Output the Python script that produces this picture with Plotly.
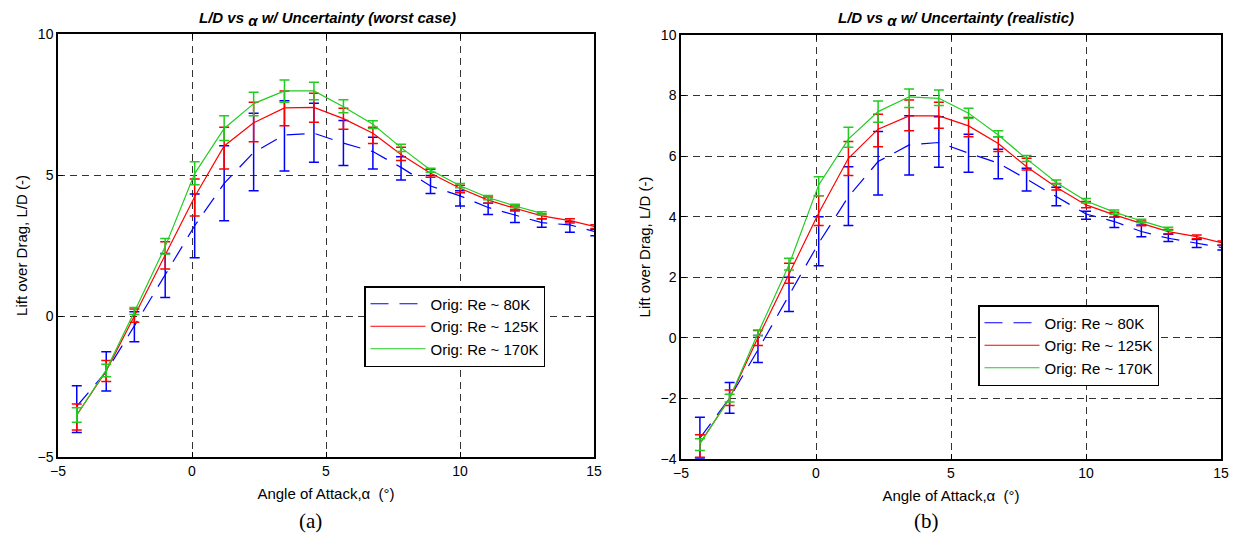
import plotly.graph_objects as go

# ---------------- data ----------------
alpha = [-4.3, -3.2, -2.15, -1.0, 0.1, 1.2, 2.3, 3.45, 4.55, 5.65, 6.75,
         7.8, 8.9, 10.0, 11.05, 12.05, 13.05, 14.1, 15.05]

# (a) worst case
wc80_mid = [-3.2, -1.97, -0.35, 1.45, 3.2, 4.7, 5.8, 6.42, 6.48, 6.13, 5.83, 5.27, 4.61, 4.26, 3.85, 3.58, 3.31, 3.23, 2.99]
wc80_hi = [-2.47, -1.27, 0.15, 2.22, 4.33, 6.04, 7.19, 7.63, 7.54, 6.93, 6.34, 5.65, 4.98, 4.44, 4.0, 3.76, 3.45, 3.35, 3.08]
wc80_lo = [-4.13, -2.66, -0.91, 0.66, 2.07, 3.38, 4.44, 5.14, 5.45, 5.34, 5.21, 4.82, 4.34, 3.9, 3.6, 3.32, 3.15, 2.97, 2.85]

wc125_mid = [-3.51, -1.95, 0.0, 2.15, 4.23, 6.03, 6.85, 7.38, 7.4, 7.0, 6.48, 5.73, 5.06, 4.53, 4.11, 3.82, 3.55, 3.38, 3.17]
wc125_hi = [-3.12, -1.58, 0.25, 2.63, 4.86, 6.69, 7.58, 7.98, 7.9, 7.37, 6.69, 5.98, 5.2, 4.64, 4.22, 3.9, 3.62, 3.45, 3.24]
wc125_lo = [-4.04, -2.32, -0.22, 1.67, 3.55, 5.21, 6.18, 6.75, 6.87, 6.62, 6.12, 5.51, 4.92, 4.37, 4.0, 3.72, 3.45, 3.3, 3.1]

wc170_mid = [-3.51, -1.91, 0.15, 2.46, 5.05, 6.65, 7.53, 7.98, 7.98, 7.42, 6.8, 5.97, 5.18, 4.62, 4.2, 3.9, 3.64]
wc170_hi = [-3.25, -1.71, 0.3, 2.75, 5.47, 7.1, 7.93, 8.37, 8.29, 7.67, 6.92, 6.09, 5.24, 4.7, 4.27, 3.96, 3.7]
wc170_lo = [-3.77, -2.15, 0.05, 2.2, 4.65, 6.22, 7.1, 7.58, 7.67, 7.21, 6.65, 5.83, 5.1, 4.55, 4.12, 3.84, 3.58]

# (b) realistic
re80_mid = [-3.31, -1.99, -0.4, 1.4, 3.13, 4.66, 5.82, 6.37, 6.45, 6.1, 5.77, 5.24, 4.66, 4.09, 3.84, 3.51, 3.29, 3.13, 2.98]
re80_hi = [-2.62, -1.47, 0.08, 2.0, 4.0, 5.65, 6.81, 7.33, 7.3, 6.72, 6.23, 5.6, 4.97, 4.18, 3.98, 3.73, 3.42, 3.25, 3.06]
re80_lo = [-3.97, -2.49, -0.81, 0.87, 2.38, 3.71, 4.72, 5.38, 5.63, 5.47, 5.25, 4.85, 4.36, 3.92, 3.64, 3.34, 3.18, 2.98, 2.9]

re125_mid = [-3.48, -2.0, 0.0, 2.08, 4.12, 5.93, 6.89, 7.33, 7.33, 7.0, 6.42, 5.65, 4.97, 4.39, 4.06, 3.78, 3.51, 3.34, 3.13]
re125_hi = [-3.2, -1.72, 0.24, 2.46, 4.69, 6.48, 7.38, 7.85, 7.78, 7.28, 6.64, 5.93, 5.1, 4.5, 4.15, 3.86, 3.58, 3.4, 3.2]
re125_lo = [-3.94, -2.23, -0.25, 1.8, 3.71, 5.36, 6.31, 6.84, 6.92, 6.64, 6.15, 5.54, 4.88, 4.3, 3.98, 3.7, 3.44, 3.27, 3.06]

re170_mid = [-3.5, -1.99, 0.15, 2.41, 5.05, 6.56, 7.47, 7.96, 7.91, 7.42, 6.7, 5.91, 5.13, 4.52, 4.15, 3.86, 3.6]
re170_hi = [-3.33, -1.86, 0.26, 2.63, 5.32, 6.95, 7.82, 8.22, 8.18, 7.58, 6.84, 6.02, 5.21, 4.6, 4.22, 3.92, 3.65]
re170_lo = [-3.72, -2.12, 0.08, 2.24, 4.69, 6.29, 7.12, 7.61, 7.67, 7.25, 6.64, 5.82, 5.08, 4.45, 4.08, 3.8, 3.55]

names = ["Orig: Re ~ 80K", "Orig: Re ~ 125K", "Orig: Re ~ 170K"]
colors = ["#0000ff", "#ff0000", "#22cc22"]
dashes = ["18px,11px", "solid", "solid"]

FONT = "Liberation Sans, Arial, sans-serif"
SERIF = "Liberation Serif, Times New Roman, serif"

fig = go.Figure()


def add_series(mid, hi, lo, k, xa, ya, legend):
    n = len(mid)
    x = alpha[:n]
    plus = [h - m for h, m in zip(hi, mid)]
    minus = [m - l for m, l in zip(mid, lo)]
    fig.add_trace(go.Scatter(
        x=x, y=mid, mode="lines", name=names[k],
        line=dict(color=colors[k], width=1.2, dash=dashes[k]),
        error_y=dict(type="data", symmetric=False, array=plus, arrayminus=minus,
                     color=colors[k], thickness=1.5, width=5),
        xaxis=xa, yaxis=ya, legend=legend, legendgroup=legend + str(k),
    ))


add_series(wc80_mid, wc80_hi, wc80_lo, 0, "x", "y", "legend")
add_series(wc125_mid, wc125_hi, wc125_lo, 1, "x", "y", "legend")
add_series(wc170_mid, wc170_hi, wc170_lo, 2, "x", "y", "legend")
add_series(re80_mid, re80_hi, re80_lo, 0, "x2", "y2", "legend2")
add_series(re125_mid, re125_hi, re125_lo, 1, "x2", "y2", "legend2")
add_series(re170_mid, re170_hi, re170_lo, 2, "x2", "y2", "legend2")

W, H = 1233, 543

axis_common = dict(
    showgrid=True, gridcolor="#333333", gridwidth=1, griddash="7px,5px",
    zeroline=False, showline=True, linecolor="black", linewidth=1.5, mirror="ticks",
    ticks="inside", ticklen=5, tickcolor="black", automargin=False,
    tickfont=dict(family=FONT, size=14, color="black"),
)

xtitle = dict(text="Angle of Attack,α  (°)", font=dict(family=FONT, size=15, color="black"), standoff=11)
ytitle = dict(text="Lift over Drag, L/D (-)", font=dict(family=FONT, size=15, color="black"), standoff=6)

alpha_sub = "<sub><span style='font-size:15px'>α</span></sub>"


def ann(text, x, y, font):
    return dict(text=text, x=x / W, y=1 - y / H, xref="paper", yref="paper",
                xanchor="center", yanchor="middle", showarrow=False, font=font)


legend_common = dict(xanchor="left", yanchor="top",
                     bgcolor="white", bordercolor="black", borderwidth=1.5,
                     font=dict(family=FONT, size=15, color="black"),
                     itemwidth=55, tracegroupgap=0, entrywidth=118)

fig.update_layout(
    width=W, height=H, autosize=False,
    margin=dict(l=0, r=0, t=0, b=0, autoexpand=False),
    paper_bgcolor="white", plot_bgcolor="white",
    showlegend=True,
    xaxis=dict(domain=[58 / W, 594 / W], range=[-5, 15], tickvals=[-5, 0, 5, 10, 15],
               anchor="y", title=xtitle, **axis_common),
    yaxis=dict(domain=[1 - 457 / H, 1 - 34 / H], range=[-5, 10], tickvals=[-5, 0, 5, 10],
               anchor="x", title=ytitle, **axis_common),
    xaxis2=dict(domain=[681 / W, 1221 / W], range=[-5, 15], tickvals=[-5, 0, 5, 10, 15],
                anchor="y2", title=xtitle, **axis_common),
    yaxis2=dict(domain=[1 - 459 / H, 1 - 35 / H], range=[-4, 10], tickvals=[-4, -2, 0, 2, 4, 6, 8, 10],
                anchor="x2", title=ytitle, **axis_common),
    legend=dict(x=364 / W, y=1 - 286 / H, **legend_common),
    legend2=dict(x=978 / W, y=1 - 305 / H, **legend_common),
    annotations=[
        ann("<b><i>L/D vs " + alpha_sub + " w/ Uncertainty (worst case)</i></b>", 327, 19,
            dict(family=FONT, size=15, color="black")),
        ann("<b><i>L/D vs " + alpha_sub + " w/ Uncertainty (realistic)</i></b>", 956, 19,
            dict(family=FONT, size=15, color="black")),
        ann("(a)", 310, 521, dict(family=SERIF, size=21, color="black")),
        ann("(b)", 926, 521, dict(family=SERIF, size=21, color="black")),
    ],
)

fig.write_html("out.html", config={"displayModeBar": False},
               post_script="document.body.style.margin='0';document.body.style.overflow='hidden';")
